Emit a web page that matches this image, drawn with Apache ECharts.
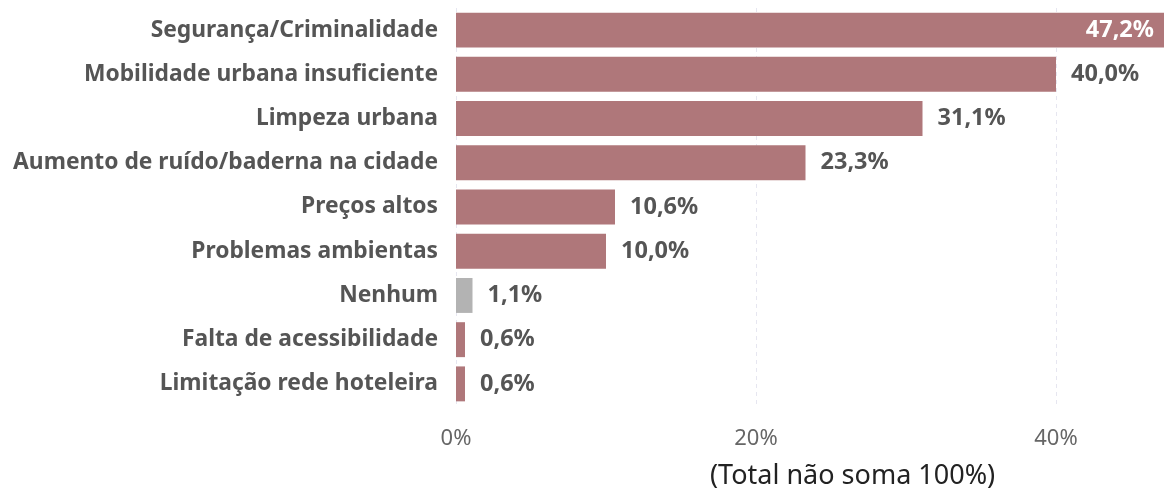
<!DOCTYPE html>
<html>
<head>
<meta charset="utf-8" />
<title>Problemas</title>
<style>
    html, body { margin: 0; padding: 0; background: #fff; }
    #chart { width: 1164px; height: 490px; }
</style>
</head>
<body>
<div id="chart"></div>
<script src="https://cdn.jsdelivr.net/npm/echarts@6/dist/echarts.min.js"></script>
<script>
    // dados
    var categorias = ["Segurança/Criminalidade", "Mobilidade urbana insuficiente", "Limpeza urbana",
        "Aumento de ruído/baderna na cidade", "Preços altos", "Problemas ambientas", "Nenhum",
        "Falta de acessibilidade", "Limitação rede hoteleira"];
    var valores = [47.2, 40.0, 31.1, 23.3, 10.6, 10.0, 1.1, 0.6, 0.6];
    var ticks = [0, 20, 40];

    var corBarra = "#af777a";
    var corNenhum = "#b3b3b3";
    var fonte = "'Noto Sans', sans-serif";

    function fmt(v) {
        return v.toFixed(1).replace(".", ",") + "%";
    }

    var dados = valores.map(function (v, i) {
        var item = { value: v, itemStyle: { color: categorias[i] === "Nenhum" ? corNenhum : corBarra } };
        if (i === 0) {
            // maior barra: rótulo dentro, branco
            item.label = { position: "insideRight", color: "#fff", distance: 10 };
        }
        return item;
    });

    var myChart = echarts.init(document.getElementById("chart"));
    var option = {
        animation: false,
        title: {
            text: "(Total não soma 100%)",
            left: 705,
            top: 458,
            textStyle: { fontFamily: fonte, fontSize: 27, fontWeight: "normal", color: "#222" }
        },
        grid: { left: 456, right: -2, top: 8, bottom: 84, containLabel: false },
        xAxis: {
            type: "value",
            min: 0,
            max: 47.2,
            interval: 20,
            axisLine: { show: false },
            axisTick: { show: false },
            splitLine: { lineStyle: { type: [4, 4], color: "#e6e6f0", width: 1 } },
            axisLabel: {
                showMaxLabel: false,
                margin: 22,
                fontFamily: fonte,
                fontSize: 22,
                color: "#666",
                formatter: function (v) { return ticks.indexOf(v) >= 0 ? v + "%" : ""; }
            }
        },
        yAxis: {
            type: "category",
            data: categorias,
            inverse: true,
            axisLine: { show: false },
            axisTick: { show: false },
            axisLabel: {
                margin: 18,
                fontFamily: fonte,
                fontSize: 22.8,
                fontWeight: "bold",
                color: "#555"
            }
        },
        series: [{
            type: "bar",
            data: dados,
            barCategoryGap: "21%",
            label: {
                show: true,
                position: "right",
                distance: 15,
                fontFamily: fonte,
                fontSize: 23.5,
                fontWeight: "bold",
                color: "#555",
                formatter: function (p) { return fmt(p.value); }
            }
        }]
    };
    myChart.setOption(option);
</script>
</body>
</html>
